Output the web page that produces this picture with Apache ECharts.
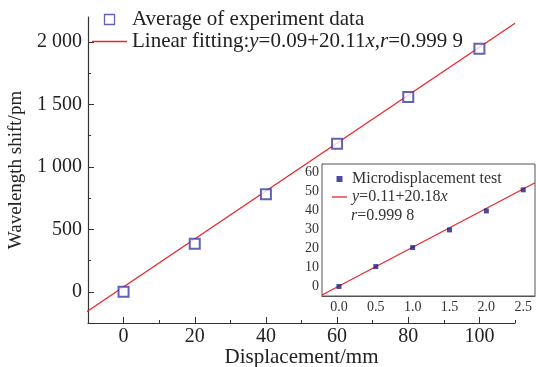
<!DOCTYPE html>
<html>
<head>
<meta charset="utf-8">
<script src="https://cdn.jsdelivr.net/npm/echarts@6/dist/echarts.min.js"></script>
<style>html,body{margin:0;padding:0;background:#fff;}#c{width:536px;height:367px;}</style>
</head>
<body>
<div id="c"></div>
<script>
// Main chart data
const mainX = [0, 20, 40, 60, 80, 100];
const mainY = [0, 385, 780, 1185, 1560, 1945];
const fitX = [-13.5, 110];
const fitY = [-220, 2150];
const xTicks = [0, 20, 40, 60, 80, 100];
const xMinor = [10, 30, 50, 70, 90, 110];
const yTicks = [0, 500, 1000, 1500, 2000];
const yMinor = [-250, 250, 750, 1250, 1750];

// Inset data
const insetX = [0, 0.5, 1.0, 1.5, 2.0, 2.5];
const insetY = [0, 10.5, 20.5, 29.8, 39.8, 50.9];
const insetFitX = [-0.23, 2.66];
const insetFitY = [-4.5, 54.6];
const insetXTicks = [0, 0.5, 1.0, 1.5, 2.0, 2.5];
const insetXMinor = [0.25, 0.75, 1.25, 1.75, 2.25];
const insetYTicks = [0, 10, 20, 30, 40, 50, 60];
const insetYMinor = [5, 15, 25, 35, 45, 55];

const FF = 'Liberation Serif';
const TXT = '#222';
const AX = '#333';
const RED = '#e8262c';
const BLUE = '#3b3ba3';

function zip(a, b) { return a.map((v, i) => [v, b[i]]); }
function thou(v) { return v >= 1000 ? String(v).replace(/(\d)(\d{3})$/, '$1 $2') : String(v); }

const chart = echarts.init(document.getElementById('c'), null, {renderer: 'canvas'});

function labelAxis(o) {
  return Object.assign({
    type: 'value',
    splitLine: {show: false},
    axisLine: {show: true, onZero: false, lineStyle: {color: AX, width: 1.2}},
  }, o);
}

const LINE_ICON = 'path://M0,0H35V1.4H0Z';

const option = {
  animation: false,
  backgroundColor: '#fff',
  grid: [
    {left: 88, top: 17, width: 427, height: 306, outerBoundsMode: 'none', containLabel: false},
    {left: 322, top: 164, width: 213, height: 132, outerBoundsMode: 'none', containLabel: false,
      show: true, borderColor: '#555', borderWidth: 1, backgroundColor: '#fff', z: 5}
  ],
  xAxis: [
    labelAxis({gridIndex: 0, min: -10, max: 110, position: 'bottom',
      axisTick: {show: true, inside: true, length: 6, customValues: xTicks, lineStyle: {color: AX}},
      axisLabel: {customValues: xTicks, margin: 4, fontSize: 20, fontFamily: FF, color: TXT},
      name: 'Displacement/mm', nameLocation: 'middle', nameGap: 24, nameMoveOverlap: false,
      nameTextStyle: {fontSize: 21, fontFamily: FF, color: TXT}}),
    {type: 'value', gridIndex: 0, min: -10, max: 110, position: 'bottom', splitLine: {show: false},
      axisLine: {show: false, onZero: false}, axisLabel: {show: false},
      axisTick: {show: true, inside: true, length: 3, customValues: xMinor, lineStyle: {color: AX}}},
    labelAxis({gridIndex: 1, min: -0.23, max: 2.66, position: 'bottom',
      axisLine: {show: true, onZero: false, lineStyle: {color: '#555', width: 1}},
      axisTick: {show: true, inside: true, length: 4, customValues: insetXTicks, lineStyle: {color: '#555'}},
      axisLabel: {customValues: insetXTicks, margin: 4, fontSize: 14, fontFamily: FF, color: '#333', formatter: v => v.toFixed(1)}}),
    {type: 'value', gridIndex: 1, min: -0.23, max: 2.66, position: 'bottom', splitLine: {show: false},
      axisLine: {show: false, onZero: false}, axisLabel: {show: false},
      axisTick: {show: true, inside: true, length: 2, customValues: insetXMinor, lineStyle: {color: '#555'}}}
  ],
  yAxis: [
    labelAxis({gridIndex: 0, min: -250, max: 2200, position: 'left',
      axisTick: {show: true, inside: true, length: 6, customValues: yTicks, lineStyle: {color: AX}},
      axisLabel: {customValues: yTicks, margin: 6, fontSize: 20, fontFamily: FF, color: TXT, formatter: thou},
      name: 'Wavelength shift/pm', nameLocation: 'middle', nameGap: 62, nameMoveOverlap: false,
      nameTextStyle: {fontSize: 19, fontFamily: FF, color: TXT}}),
    {type: 'value', gridIndex: 0, min: -250, max: 2200, position: 'left', splitLine: {show: false},
      axisLine: {show: false, onZero: false}, axisLabel: {show: false},
      axisTick: {show: true, inside: true, length: 3, customValues: yMinor, lineStyle: {color: AX}}},
    labelAxis({gridIndex: 1, min: -5, max: 64.5, position: 'left',
      axisLine: {show: true, onZero: false, lineStyle: {color: '#555', width: 1}},
      axisTick: {show: true, inside: true, length: 4, customValues: insetYTicks, lineStyle: {color: '#555'}},
      axisLabel: {customValues: insetYTicks, margin: 3, fontSize: 14, fontFamily: FF, color: '#333'}}),
    {type: 'value', gridIndex: 1, min: -5, max: 64.5, position: 'left', splitLine: {show: false},
      axisLine: {show: false, onZero: false}, axisLabel: {show: false},
      axisTick: {show: true, inside: true, length: 2, customValues: insetYMinor, lineStyle: {color: '#555'}}},
    {type: 'value', gridIndex: 1, min: -5, max: 64.5, position: 'right', splitLine: {show: false},
      axisLine: {show: false, onZero: false}, axisLabel: {show: false},
      axisTick: {show: true, inside: true, length: 4, customValues: insetYTicks, lineStyle: {color: '#555'}}}
  ],
  legend: [
    {
      data: [
        {name: 'Average of experiment data', icon: 'path://M0,0H10V10H0Z',
          itemStyle: {color: 'rgba(0,0,0,0)', borderColor: BLUE, borderWidth: 1.3}},
        {name: 'Linear fitting', icon: LINE_ICON, itemStyle: {color: RED, borderWidth: 0}}
      ],
      orient: 'vertical', left: 92, top: 9, padding: 0, itemWidth: 35, itemHeight: 10, itemGap: 1, z: 20,
      textStyle: {fontSize: 21, fontFamily: FF, color: TXT,
        rich: {i: {fontStyle: 'italic', fontSize: 21, fontFamily: FF, color: TXT}}},
      formatter: n => n === 'Linear fitting' ? 'Linear fitting:{i|y}=0.09+20.11{i|x},{i|r}=0.999 9' : n
    },
    {
      data: [
        {name: 'Microdisplacement test', icon: 'path://M0,0H5V5H0Z', itemStyle: {color: '#1f1f85'}},
        {name: 'Inset fit', icon: 'path://M0,0H16V1.4H0Z', itemStyle: {color: RED, borderWidth: 0}}
      ],
      orient: 'vertical', left: 332, top: 171, padding: 0, itemWidth: 15, itemHeight: 6, itemGap: 2, z: 20,
      textStyle: {fontSize: 16, fontFamily: FF, color: '#333',
        rich: {i: {fontStyle: 'italic', fontSize: 16, fontFamily: FF, color: '#333'}}},
      formatter: n => n === 'Inset fit' ? '{i|y}=0.11+20.18{i|x}' : n
    }
  ],
  graphic: [
    {type: 'text', left: 351, top: 208, z: 100,
      style: {text: '{i|r}=0.999 8', fontSize: 16, fontFamily: FF, fill: '#333',
        rich: {i: {fontStyle: 'italic', fontSize: 16, fontFamily: FF, fill: '#333'}}}}
  ],
  series: [
    {name: 'Linear fitting', type: 'line', xAxisIndex: 0, yAxisIndex: 0, data: zip(fitX, fitY),
      symbol: 'none', clip: false, lineStyle: {color: RED, width: 1.3}, itemStyle: {color: RED}, z: 2},
    {name: 'Average of experiment data', type: 'scatter', xAxisIndex: 0, yAxisIndex: 0, data: zip(mainX, mainY),
      symbol: 'emptyRect', symbolSize: 10, itemStyle: {color: BLUE, borderWidth: 1.5}, z: 3},
    {name: 'Inset fit', type: 'line', xAxisIndex: 2, yAxisIndex: 2, data: zip(insetFitX, insetFitY),
      symbol: 'none', lineStyle: {color: RED, width: 1.2}, itemStyle: {color: RED}, z: 6},
    {name: 'Microdisplacement test', type: 'scatter', xAxisIndex: 2, yAxisIndex: 2, data: zip(insetX, insetY),
      symbol: 'rect', symbolSize: 5, itemStyle: {color: '#1f1f85'}, z: 7}
  ]
};
chart.setOption(option);
</script>
</body>
</html>
